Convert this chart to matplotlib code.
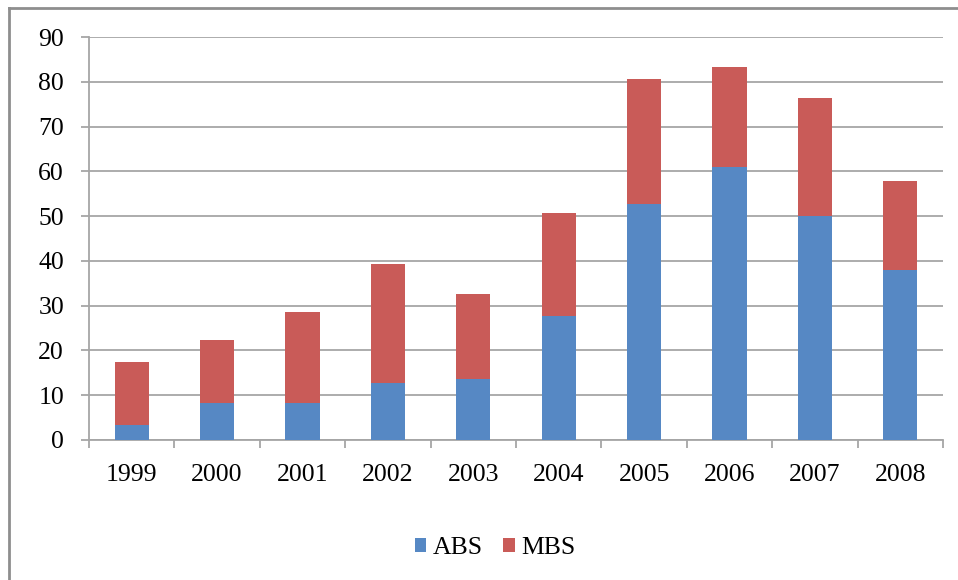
import matplotlib
matplotlib.use("Agg")
import matplotlib.pyplot as plt
from matplotlib.lines import Line2D
import numpy as np

years = ["1999", "2000", "2001", "2002", "2003", "2004", "2005", "2006", "2007", "2008"]
abs_vals = [3.3, 8.2, 8.2, 12.7, 13.6, 27.7, 52.6, 60.9, 50.0, 38.0]
mbs_vals = [14.1, 14.1, 20.4, 26.5, 19.0, 22.9, 28.1, 22.3, 26.4, 19.8]

blue = "#5688C4"
red = "#C95B58"
grid_gray = "#A6A6A6"

plt.rcParams["font.family"] = ["Liberation Serif", "DejaVu Serif"]

fig = plt.figure(figsize=(9.58, 5.8), dpi=100)
ax = fig.add_axes([89 / 958, 1 - 440 / 580, (943 - 89) / 958, (440 - 37) / 580])

x = np.arange(len(years))
ax.bar(x, abs_vals, width=0.4, color=blue, label="ABS", zorder=3)
ax.bar(x, mbs_vals, width=0.4, bottom=abs_vals, color=red, label="MBS", zorder=3)

ax.set_xlim(-0.5, len(years) - 0.5)
ax.set_ylim(0, 90)
ax.set_yticks(np.arange(0, 91, 10))
ax.yaxis.grid(True, color=grid_gray, linewidth=1.3, zorder=0)

# category boundaries carry the tick marks, labels sit at the centres
ax.set_xticks(np.arange(-0.5, len(years), 1.0))
ax.set_xticklabels([])
ax.set_xticks(x, minor=True)
ax.set_xticklabels(years, minor=True)
ax.tick_params(axis="x", which="major", length=6, width=1.3, color=grid_gray, direction="out")
ax.tick_params(axis="x", which="minor", length=0, pad=17, labelsize=18.5)
ax.tick_params(axis="y", length=6, width=1.3, color=grid_gray, pad=12, labelsize=18.5)

for side in ("top", "right"):
    ax.spines[side].set_visible(False)
for side in ("left", "bottom"):
    ax.spines[side].set_color(grid_gray)
    ax.spines[side].set_linewidth(1.3)

fig.legend(loc="center", bbox_to_anchor=(495 / 958, 1 - 548 / 580), ncol=2,
           frameon=False, fontsize=18.5, handlelength=0.45, handleheight=0.45,
           handletextpad=0.25, columnspacing=0.8)

# outer chart frame
fig.add_artist(Line2D([9 / 958, 1.0], [1 - 8 / 580, 1 - 8 / 580], transform=fig.transFigure,
                      color="#8E8E8E", linewidth=2))
fig.add_artist(Line2D([9 / 958, 9 / 958], [1 - 8 / 580, 0.0], transform=fig.transFigure,
                      color="#8E8E8E", linewidth=2))

fig.savefig("out.png", dpi=100)
